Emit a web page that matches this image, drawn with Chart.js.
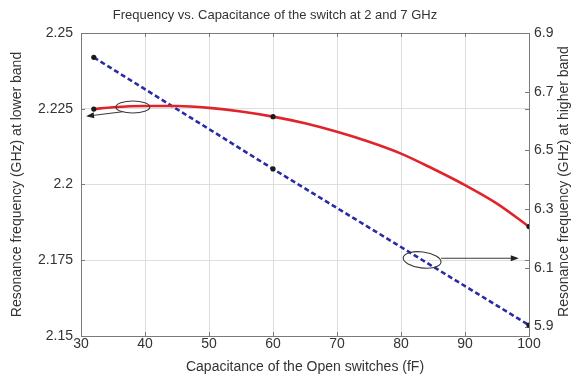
<!DOCTYPE html>
<html>
<head>
<meta charset="utf-8">
<script src="https://cdn.jsdelivr.net/npm/chart.js@4/dist/chart.umd.min.js"></script>
<style>
    body { margin: 0; background: #fff; }
    #wrap { position: relative; width: 578px; height: 376px; }
    #title {
        position: absolute; left: 0; top: 7px; width: 550px;
        text-align: center; font: 13px "Liberation Sans", Arial, sans-serif;
        line-height: 16px; color: #333;
    }
</style>
</head>
<body>
<div id="wrap">
    <canvas id="freqChart" width="578" height="376"></canvas>
    <div id="title">Frequency vs. Capacitance of the switch at 2 and 7 GHz</div>
</div>
<script>
// ── data ──
const CAP_TICKS = [30, 40, 50, 60, 70, 80, 90, 100];
const LOW_TICKS = [2.15, 2.175, 2.2, 2.225, 2.25];
const HIGH_TICKS = [5.9, 6.1, 6.3, 6.5, 6.7, 6.9];

// lower band (left axis), red solid curve
const LOW_CAP = [32, 35, 40, 45, 50, 55, 60, 65, 70, 75, 80, 85, 90, 95, 100];
const LOW_FREQ = [2.2249, 2.2255, 2.2259, 2.2259, 2.2253, 2.2241, 2.2224, 2.2202, 2.2174, 2.2141, 2.2102, 2.2052, 2.1998, 2.1937, 2.1861];

// higher band (right axis), blue dashed line
const HIGH_CAP = [32, 60, 100];
const HIGH_FREQ = [6.817, 6.437, 5.905];

// capacitances that carry a marker
const MARKED_CAP = [32, 60, 100];

const HIGH_MIN = 5.868;
const HIGH_MAX = 6.9;

const RIGHT_TITLE = "Resonance frequency (GHz) at higher band";

const FONT = "'Liberation Sans', Arial, sans-serif";
const TEXT = "#333";

function fixTicks(values) {
    return (scale) => {
        scale.ticks = values.map((v) => ({ value: v }));
    };
}

// ellipses + arrows pointing each curve at its axis
const notes = [
    { axis: "yL", cx: 38.1, cy: 2.2256, rx: 17, ry: 6, rot: 0, tip: [31.1, 2.2226], side: "left" },
    { axis: "yR", cx: 83.3, cy: 6.127, rx: 19, ry: 8, rot: 0.12, tip: [98.1, 6.133], side: "right" },
];

const frameAndNotes = {
    id: "frameAndNotes",
    beforeDatasetsDraw(chart) {
        const { ctx, chartArea: a, scales } = chart;
        ctx.save();
        ctx.strokeStyle = "#7a7a7a";
        ctx.lineWidth = 1;
        ctx.strokeRect(a.left + 0.5, a.top + 0.5, a.right - a.left, a.bottom - a.top);
        // inward tick marks, Matlab style
        ctx.beginPath();
        CAP_TICKS.forEach((v) => {
            const x = Math.round(scales.x.getPixelForValue(v)) + 0.5;
            ctx.moveTo(x, a.bottom); ctx.lineTo(x, a.bottom - 4);
            ctx.moveTo(x, a.top); ctx.lineTo(x, a.top + 4);
        });
        LOW_TICKS.forEach((v) => {
            const y = Math.round(scales.yL.getPixelForValue(v)) + 0.5;
            ctx.moveTo(a.left, y); ctx.lineTo(a.left + 4, y);
            ctx.moveTo(a.right, y); ctx.lineTo(a.right - 4, y);
        });
        HIGH_TICKS.forEach((v) => {
            const y = Math.round(scales.yR.getPixelForValue(v)) + 0.5;
            ctx.moveTo(a.right, y); ctx.lineTo(a.right - 4, y);
        });
        ctx.stroke();
        ctx.restore();
    },
    afterDatasetsDraw(chart) {
        const { ctx, scales } = chart;
        ctx.save();
        ctx.strokeStyle = "#3a3a3a";
        ctx.fillStyle = "#222";
        ctx.lineWidth = 1.1;
        notes.forEach((n) => {
            const cx = scales.x.getPixelForValue(n.cx);
            const cy = scales[n.axis].getPixelForValue(n.cy);
            ctx.beginPath();
            ctx.ellipse(cx, cy, n.rx, n.ry, n.rot, 0, Math.PI * 2);
            ctx.stroke();

            const tx = scales.x.getPixelForValue(n.tip[0]);
            const ty = scales[n.axis].getPixelForValue(n.tip[1]);
            const sx = n.side === "left" ? cx - n.rx * 0.6 : cx + n.rx;
            const sy = n.side === "left" ? cy + n.ry * 0.8 : ty;
            ctx.beginPath();
            ctx.moveTo(sx, sy);
            ctx.lineTo(tx, ty);
            ctx.stroke();

            const ang = Math.atan2(ty - sy, tx - sx);
            ctx.beginPath();
            ctx.moveTo(tx + Math.cos(ang) * 2, ty + Math.sin(ang) * 2);
            ctx.lineTo(tx - Math.cos(ang) * 6 - Math.sin(ang) * 3, ty - Math.sin(ang) * 6 + Math.cos(ang) * 3);
            ctx.lineTo(tx - Math.cos(ang) * 6 + Math.sin(ang) * 3, ty - Math.sin(ang) * 6 - Math.cos(ang) * 3);
            ctx.closePath();
            ctx.fill();
        });
        ctx.restore();
    },
    afterDraw(chart) {
        // right axis title reads bottom-to-top like the left one
        const { ctx, chartArea: a } = chart;
        ctx.save();
        ctx.translate(chart.width - 14, (a.top + a.bottom) / 2 - 3);
        ctx.rotate(-Math.PI / 2);
        ctx.fillStyle = TEXT;
        ctx.font = `14px ${FONT}`;
        ctx.textAlign = "center";
        ctx.textBaseline = "middle";
        ctx.fillText(RIGHT_TITLE, 0, 0);
        ctx.restore();
    },
};

const markerRadius = (c) => (c.raw && MARKED_CAP.includes(c.raw.x) ? 2.6 : 0);

new Chart(document.getElementById("freqChart"), {
    type: "line",
    data: {
        datasets: [
            {
                label: "Lower band",
                data: LOW_CAP.map((c, i) => ({ x: c, y: LOW_FREQ[i] })),
                yAxisID: "yL",
                borderColor: "#e0242c",
                borderWidth: 2.6,
                cubicInterpolationMode: "monotone",
                pointRadius: markerRadius,
                pointBackgroundColor: "#1a1a1a",
                pointBorderWidth: 0,
            },
            {
                label: "Higher band",
                data: HIGH_CAP.map((c, i) => ({ x: c, y: HIGH_FREQ[i] })),
                yAxisID: "yR",
                borderColor: "#2a2aa8",
                borderWidth: 2.6,
                borderDash: [5, 3],
                tension: 0,
                pointRadius: markerRadius,
                pointBackgroundColor: "#1a1a1a",
                pointBorderWidth: 0,
            },
        ],
    },
    options: {
        responsive: false,
        animation: false,
        devicePixelRatio: 1,
        layout: { padding: { top: 33, left: 0, right: 0, bottom: 0 } },
        plugins: { legend: { display: false }, tooltip: { enabled: false } },
        scales: {
            x: {
                type: "linear",
                position: "bottom",
                min: 30,
                max: 100,
                afterBuildTicks: fixTicks(CAP_TICKS),
                afterFit: (s) => { s.height = 40; },
                ticks: { padding: 0, color: TEXT, font: { family: FONT, size: 14 }, maxRotation: 0, callback: (v) => String(v) },
                grid: {
                    drawTicks: false,
                    color: (c) => (c.tick && (c.tick.value === 30 || c.tick.value === 100) ? "rgba(0,0,0,0)" : "#dedede"),
                },
                border: { display: false },
                title: {
                    display: true,
                    text: "Capacitance of the Open switches (fF)",
                    color: TEXT,
                    font: { family: FONT, size: 14 },
                    padding: { top: 5, bottom: 0 },
                },
            },
            yL: {
                type: "linear",
                position: "left",
                min: 2.15,
                max: 2.25,
                afterBuildTicks: fixTicks(LOW_TICKS),
                afterFit: (s) => { s.width = 81; },
                ticks: { padding: 8, color: TEXT, font: { family: FONT, size: 14 }, callback: (v) => String(+v.toFixed(3)) },
                grid: {
                    drawTicks: false,
                    color: (c) => (c.tick && (c.tick.value === 2.15 || c.tick.value === 2.25) ? "rgba(0,0,0,0)" : "#dedede"),
                },
                border: { display: false },
                title: {
                    display: true,
                    text: "Resonance frequency (GHz) at lower band",
                    color: TEXT,
                    font: { family: FONT, size: 14 },
                    padding: { top: 9, bottom: 0 },
                },
            },
            yR: {
                type: "linear",
                position: "right",
                min: HIGH_MIN,
                max: HIGH_MAX,
                afterBuildTicks: fixTicks(HIGH_TICKS),
                afterFit: (s) => { s.width = 49; },
                ticks: { padding: 5, color: TEXT, font: { family: FONT, size: 14 }, callback: (v) => v.toFixed(1) },
                grid: { display: false, drawTicks: false },
                border: { display: false },
                title: { display: false },
            },
        },
    },
    plugins: [frameAndNotes],
});
</script>
</body>
</html>
